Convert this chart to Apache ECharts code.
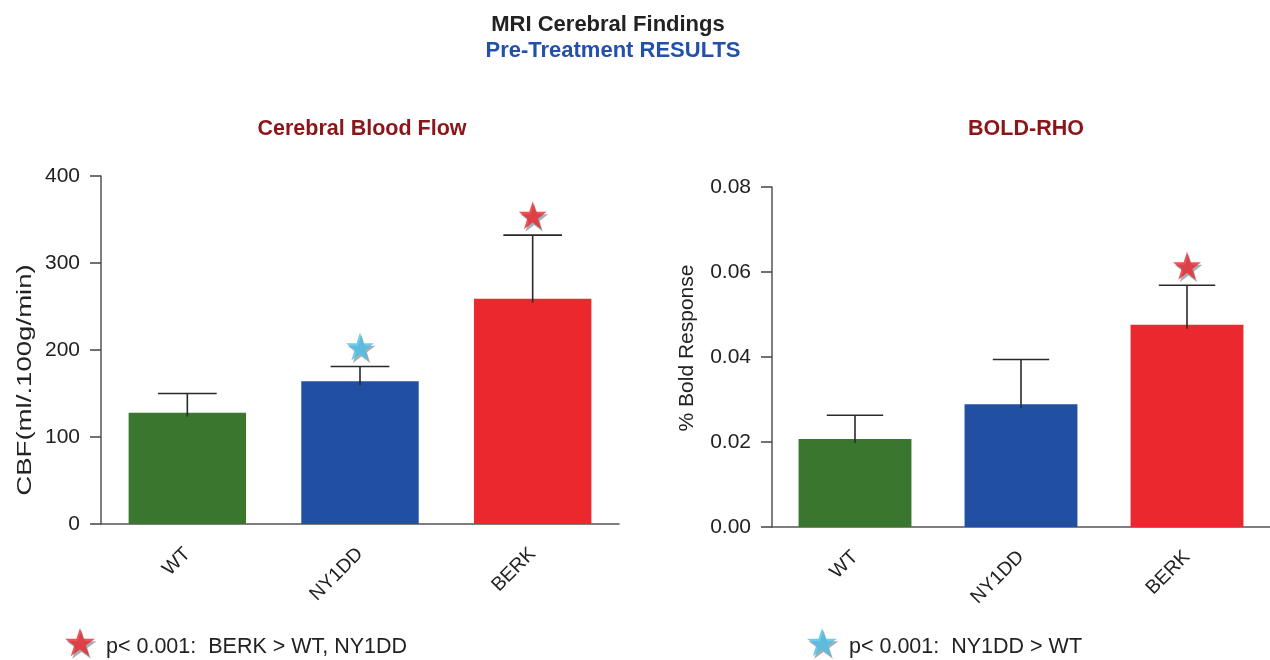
<!DOCTYPE html>
<html>
<head>
<meta charset="utf-8">
<script src="https://cdn.jsdelivr.net/npm/echarts@6/dist/echarts.min.js"></script>
<style>html,body{margin:0;padding:0;background:#fff}#c{width:1270px;height:660px}</style>
</head>
<body>
<div id="c"></div>
<script>
// ---- data ----
const categories = ['WT', 'NY1DD', 'BERK'];
const cbfMean = [128, 164, 259];
const cbfErrTop = [150, 181, 332];
const cbfTicks = [0, 100, 200, 300, 400];
const boldMean = [0.0207, 0.0289, 0.0476];
const boldErrTop = [0.0263, 0.0394, 0.0569];
const boldTicks = [0.00, 0.02, 0.04, 0.06, 0.08];
const cbfStarRed = ['-', '-', 355];
const cbfStarBlue = ['-', 204, '-'];
const boldStarRed = ['-', '-', 0.0615];
const sigRedText = 'p< 0.001:  BERK > WT, NY1DD';
const sigBlueText = 'p< 0.001:  NY1DD > WT';

// ---- styling ----
const FONT = '"Liberation Sans", Arial, Helvetica, sans-serif';
const barColors = ['#3A762E', '#2150A3', '#EA282E'];
const starRed = '#E8262C';
const starBlue = '#4BBEE9';
const STAR = 'path://M50,0 L61.8,35.1 L98.9,35.1 L68.9,56.7 L80.3,91.9 L50,70.2 L19.7,91.9 L31.1,56.7 L1.1,35.1 L38.2,35.1 Z';

const chart = echarts.init(document.getElementById('c'), null, {renderer: 'canvas'});

function errRender(params, api) {
  const x = api.value(0), lo = api.value(1), hi = api.value(2);
  const pLo = api.coord([x, lo]);
  const pHi = api.coord([x, hi]);
  const half = api.size([1, 0])[0] * 0.17;
  const st = {stroke: '#2a2a2a', lineWidth: 1.6};
  return {type: 'group', children: [
    {type: 'line', shape: {x1: pLo[0], y1: pLo[1] + 4, x2: pHi[0], y2: pHi[1]}, style: st},
    {type: 'line', shape: {x1: pHi[0] - half, y1: pHi[1], x2: pHi[0] + half, y2: pHi[1]}, style: st}
  ]};
}

function xAxis(gi) {
  return {
    type: 'category', gridIndex: gi, data: categories,
    axisLine: {lineStyle: {color: '#555', width: 1.5}},
    axisTick: {alignWithLabel: true, length: 12, lineStyle: {color: '#444', width: 1.5}},
    axisLabel: {rotate: 45, margin: 27, fontFamily: FONT, fontSize: 19.5, color: '#222'}
  };
}
function yAxis(gi, max, interval, fmt) {
  return {
    type: 'value', gridIndex: gi, min: 0, max: max, interval: interval,
    splitLine: {show: false},
    axisLine: {show: true, lineStyle: {color: '#555', width: 1.5}},
    axisTick: {show: true, length: 11, lineStyle: {color: '#444', width: 1.5}},
    axisLabel: {margin: 21, fontFamily: FONT, fontSize: 21, color: '#222', formatter: fmt}
  };
}

const starShadow = {shadowColor: '#8C9BA3', shadowBlur: 0, shadowOffsetX: 1.5, shadowOffsetY: 2.5};

function legendText(padLeft) {
  return {fontFamily: FONT, fontSize: 21.5, color: '#222',
    rich: {t: {fontFamily: FONT, fontSize: 21.5, color: '#222', padding: [9, 0, 0, padLeft]}}};
}

const option = {
  animation: false,
  backgroundColor: '#fff',
  title: [
    {text: 'MRI Cerebral Findings', left: 603, top: 9, textAlign: 'center',
      textStyle: {fontFamily: FONT, fontSize: 22, lineHeight: 22, fontWeight: 'bold', color: '#222'}},
    {text: 'Pre-Treatment RESULTS', left: 608, top: 34.5, textAlign: 'center',
      textStyle: {fontFamily: FONT, fontSize: 22, lineHeight: 22, fontWeight: 'bold', color: '#2350A8'}},
    {text: 'Cerebral Blood Flow', left: 357, top: 113, textAlign: 'center',
      textStyle: {fontFamily: FONT, fontSize: 21.5, lineHeight: 22, fontWeight: 'bold', color: '#8B1519'}},
    {text: 'BOLD-RHO', left: 1021, top: 113, textAlign: 'center',
      textStyle: {fontFamily: FONT, fontSize: 21.5, lineHeight: 22, fontWeight: 'bold', color: '#8B1519'}}
  ],
  legend: [
    {left: 60, top: 623, itemWidth: 30, itemHeight: 30, itemGap: 10,
      data: [{name: sigRedText, icon: STAR}], selectedMode: false,
      itemStyle: starShadow, formatter: '{t|{name}}', textStyle: legendText(6)},
    {left: 802, top: 623, itemWidth: 30, itemHeight: 30, itemGap: 10,
      data: [{name: sigBlueText, icon: STAR}], selectedMode: false,
      itemStyle: starShadow, formatter: '{t|{name}}', textStyle: legendText(7)}
  ],
  grid: [
    {left: 101, top: 176, width: 518, height: 348},
    {left: 772, top: 187, width: 508, height: 340}
  ],
  xAxis: [xAxis(0), xAxis(1)],
  yAxis: [
    yAxis(0, cbfTicks[cbfTicks.length - 1], cbfTicks[1] - cbfTicks[0], v => String(v)),
    yAxis(1, boldTicks[boldTicks.length - 1], boldTicks[1] - boldTicks[0], v => v.toFixed(2))
  ],
  graphic: [
    {type: 'text', x: 25, y: 380, rotation: Math.PI / 2, scaleX: 1.38,
      style: {text: 'CBF(ml/.100g/min)', align: 'center', verticalAlign: 'middle',
        font: '20px ' + FONT, fill: '#222'}},
    {type: 'text', x: 687, y: 348, rotation: Math.PI / 2,
      style: {text: '% Bold Response', align: 'center', verticalAlign: 'middle',
        font: '21px ' + FONT, fill: '#222'}}
  ],
  series: [
    {type: 'bar', xAxisIndex: 0, yAxisIndex: 0, barWidth: '68%',
      data: cbfMean.map((v, i) => ({value: v, itemStyle: {color: barColors[i]}}))},
    {type: 'custom', xAxisIndex: 0, yAxisIndex: 0, z: 5, renderItem: errRender,
      data: cbfMean.map((v, i) => [i, v, cbfErrTop[i]])},
    {type: 'bar', xAxisIndex: 1, yAxisIndex: 1, barWidth: '68%',
      data: boldMean.map((v, i) => ({value: v, itemStyle: {color: barColors[i]}}))},
    {type: 'custom', xAxisIndex: 1, yAxisIndex: 1, z: 5, renderItem: errRender,
      data: boldMean.map((v, i) => [i, v, boldErrTop[i]])},
    {type: 'scatter', name: sigRedText, xAxisIndex: 0, yAxisIndex: 0, z: 6,
      symbol: STAR, symbolSize: 28, data: cbfStarRed,
      itemStyle: Object.assign({color: starRed}, starShadow)},
    {type: 'scatter', name: sigBlueText, xAxisIndex: 0, yAxisIndex: 0, z: 6,
      symbol: STAR, symbolSize: 28, data: cbfStarBlue,
      itemStyle: Object.assign({color: starBlue}, starShadow)},
    {type: 'scatter', name: sigRedText, xAxisIndex: 1, yAxisIndex: 1, z: 6,
      symbol: STAR, symbolSize: 28, data: boldStarRed,
      itemStyle: Object.assign({color: starRed}, starShadow)}
  ]
};
chart.setOption(option);
</script>
</body>
</html>
